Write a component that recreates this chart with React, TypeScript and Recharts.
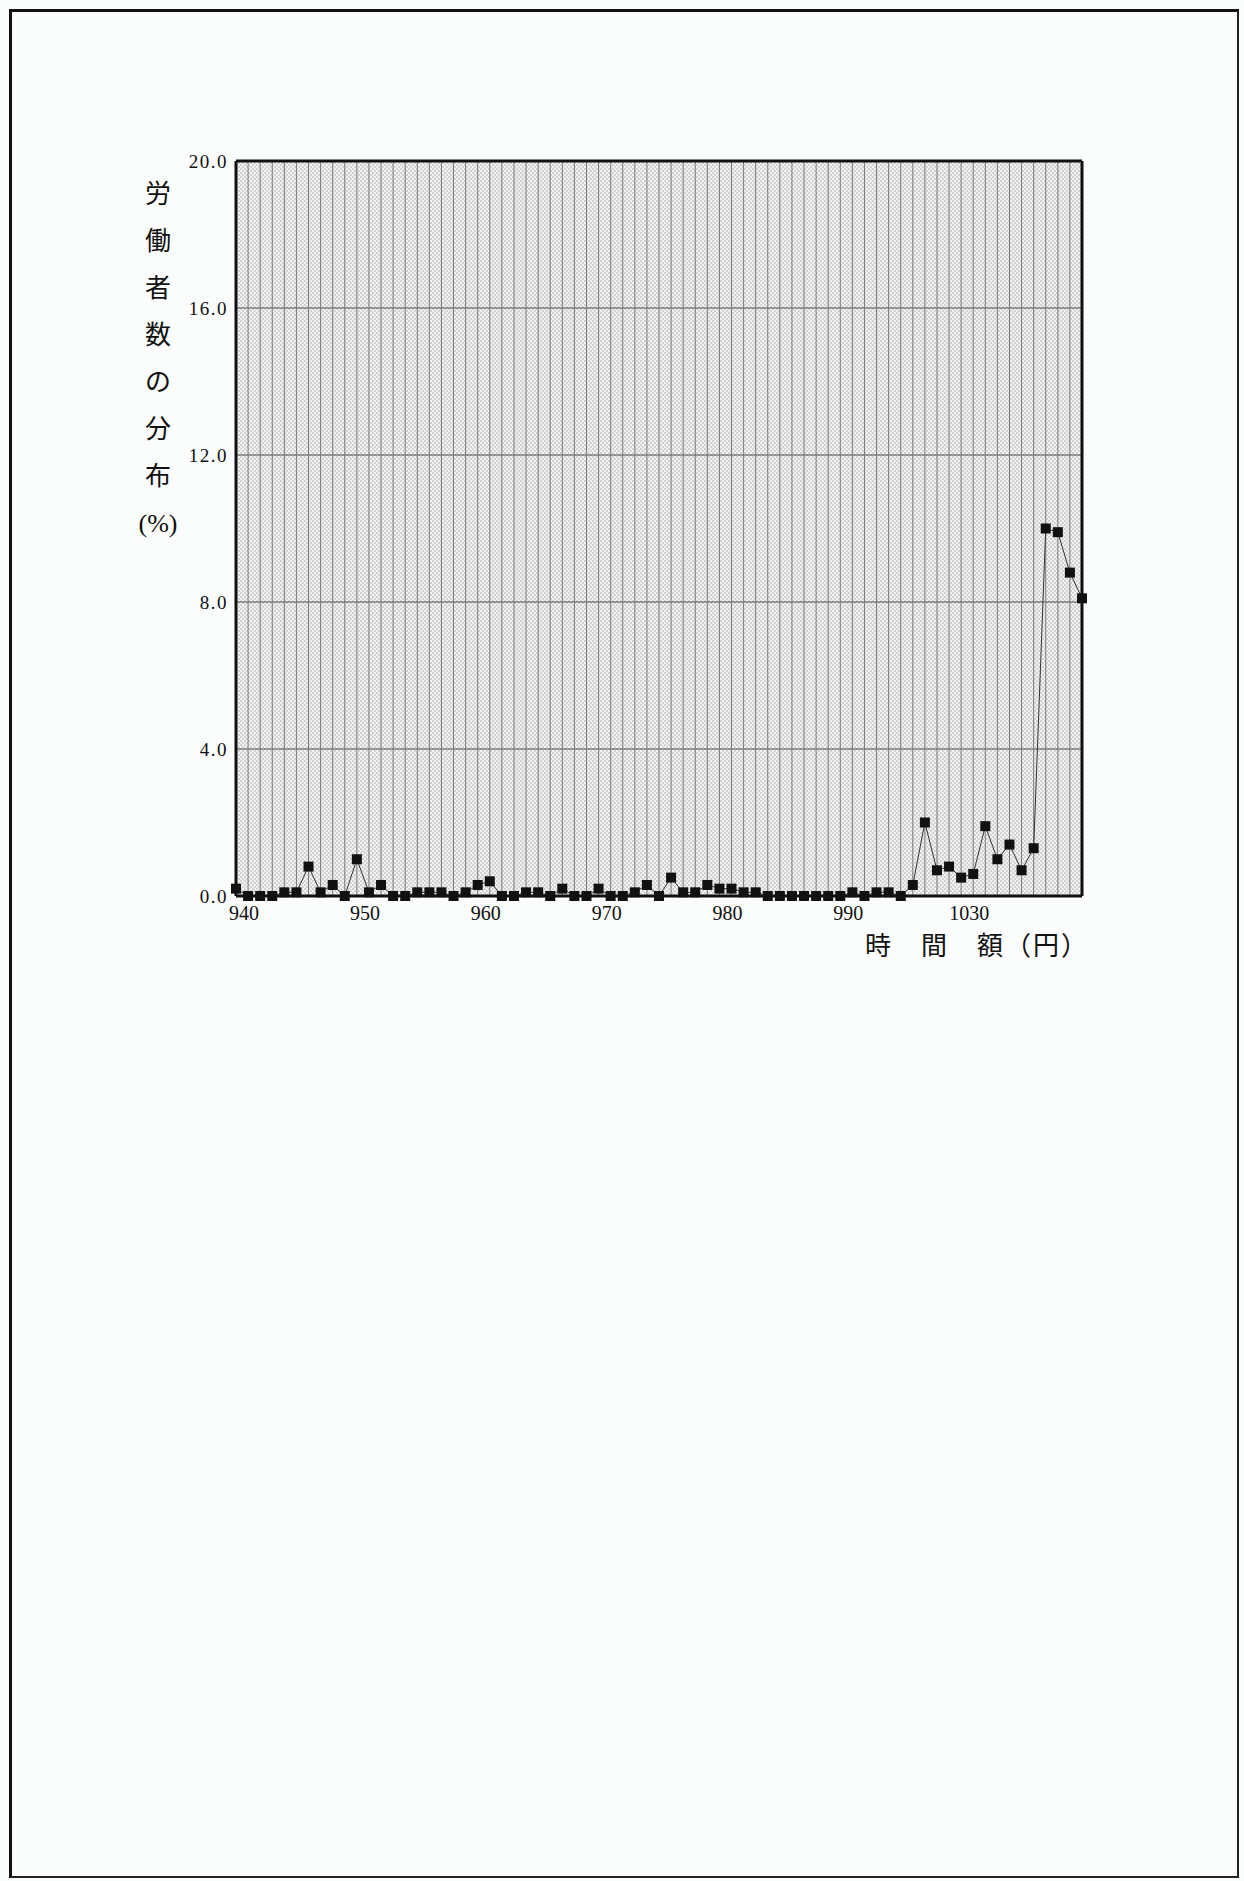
import React from "react";
import {
  LineChart,
  Line,
  XAxis,
  YAxis,
  CartesianGrid,
  ReferenceLine,
} from "recharts";

// ---- data ----
// position of each wage class along the axis (0 = first class shown)
const categories: number[] = [
  0, 1, 2, 3, 4, 5, 6, 7, 8, 9,
  10, 11, 12, 13, 14, 15, 16, 17, 18, 19,
  20, 21, 22, 23, 24, 25, 26, 27, 28, 29,
  30, 31, 32, 33, 34, 35, 36, 37, 38, 39,
  40, 41, 42, 43, 44, 45, 46, 47, 48, 49,
  50, 51, 52, 53, 54, 55, 56, 57, 58, 59,
  60, 61, 62, 63, 64, 65, 66, 67, 68, 69,
  70,
];

// 労働者数の分布 (%)
const shares: number[] = [
  0.2, 0, 0, 0, 0.1, 0.1, 0.8, 0.1, 0.3, 0,
  1.0, 0.1, 0.3, 0, 0, 0.1, 0.1, 0.1, 0, 0.1,
  0.3, 0.4, 0, 0, 0.1, 0.1, 0, 0.2, 0, 0,
  0.2, 0, 0, 0.1, 0.3, 0, 0.5, 0.1, 0.1, 0.3,
  0.2, 0.2, 0.1, 0.1, 0, 0, 0, 0, 0, 0,
  0, 0.1, 0, 0.1, 0.1, 0, 0.3, 2.0, 0.7, 0.8,
  0.5, 0.6, 1.9, 1.0, 1.4, 0.7, 1.3, 10.0, 9.9, 8.8,
  8.1,
];

const xTickPositions: number[] = [1, 11, 21, 31, 41, 51, 61];
const xTickLabels: string[] = ["940", "950", "960", "970", "980", "990", "1030"];
const yTicks: number[] = [0, 4, 8, 12, 16, 20];

const yTitleLines: string[] = ["労", "働", "者", "数", "の", "分", "布", "(%)"];
const xTitle = "時　間　額（円）";

const data = categories.map((c, i) => ({ idx: c, share: shares[i] }));

const SERIF = "'Liberation Serif', 'DejaVu Serif', 'Noto Sans CJK JP', serif";

const SquareDot = (props: any) => {
  const { cx, cy, index } = props;
  if (cx == null || cy == null) return <g key={`d${index}`} />;
  return (
    <rect
      key={`d${index}`}
      x={cx - 5}
      y={cy - 5}
      width={10}
      height={10}
      fill="#111"
    />
  );
};

export default function App() {
  const tickLabelFor = (v: number) => {
    const k = xTickPositions.indexOf(v);
    return k >= 0 ? xTickLabels[k] : "";
  };

  return (
    <div
      style={{
        position: "absolute",
        left: 0,
        top: 0,
        width: 1244,
        height: 1881,
        background: "#fbfcfc",
        overflow: "hidden",
      }}
    >
      <svg width={0} height={0} style={{ position: "absolute" }}>
        <defs>
          <pattern id="tone" width={4} height={4} patternUnits="userSpaceOnUse">
            <rect x={0} y={0} width={4} height={4} fill="#f1f1f1" />
            <circle cx={1} cy={1} r={0.75} fill="#a6a6a6" />
            <circle cx={3} cy={3} r={0.75} fill="#a6a6a6" />
          </pattern>
        </defs>
      </svg>

      {/* page frame */}
      <div
        style={{
          position: "absolute",
          left: 9,
          top: 9,
          width: 1230,
          height: 1869,
          boxSizing: "border-box",
          borderLeft: "3px solid #111",
          borderTop: "3px solid #111",
          borderRight: "2px solid #222",
          borderBottom: "2px solid #222",
        }}
      />

      <div style={{ position: "absolute", left: 0, top: 0 }}>
        <LineChart
          width={1244}
          height={1000}
          data={data}
          margin={{ top: 161, right: 162, bottom: 74, left: 176 }}
        >
          <CartesianGrid
            vertical={false}
            stroke="#4a4a4a"
            strokeWidth={1}
            fill="url(#tone)"
            fillOpacity={1}
          />
          {categories.slice(1, categories.length - 1).map((c) => (
            <ReferenceLine
              key={`v${c}`}
              x={c}
              stroke="#7a7a7a"
              strokeWidth={1}
            />
          ))}
          <ReferenceLine y={20} stroke="#111" strokeWidth={3} />
          <ReferenceLine x={categories[categories.length - 1]} stroke="#111" strokeWidth={3} />
          <XAxis
            dataKey="idx"
            type="number"
            domain={[0, categories.length - 1]}
            ticks={xTickPositions}
            interval={0}
            tickFormatter={tickLabelFor}
            tickLine={false}
            tickSize={5}
            tickMargin={5}
            height={30}
            axisLine={{ stroke: "#111", strokeWidth: 3 }}
            tick={{ fontSize: 20, fill: "#111", fontFamily: SERIF, dx: -4 }}
          />
          <YAxis
            type="number"
            domain={[0, 20]}
            ticks={yTicks}
            interval={0}
            tickFormatter={(v: number) => v.toFixed(1)}
            tickLine={false}
            tickSize={4}
            tickMargin={4}
            width={60}
            axisLine={{ stroke: "#111", strokeWidth: 3 }}
            tick={{ fontSize: 19, fill: "#111", fontFamily: SERIF, letterSpacing: 1.5 }}
          />
          <Line
            dataKey="share"
            type="linear"
            stroke="#333"
            strokeWidth={1}
            dot={SquareDot}
            activeDot={false}
            isAnimationActive={false}
          />
        </LineChart>
      </div>

      {/* y-axis title, stacked vertically */}
      <div
        style={{
          position: "absolute",
          left: 133,
          top: 171,
          width: 50,
          textAlign: "center",
          fontSize: 26,
          lineHeight: "47px",
          fontFamily: SERIF,
          color: "#111",
        }}
      >
        {yTitleLines.map((t) => (
          <div key={t}>{t}</div>
        ))}
      </div>

      {/* x-axis title */}
      <div
        style={{
          position: "absolute",
          left: 865,
          top: 931,
          fontSize: 26,
          lineHeight: "32px",
          letterSpacing: 2,
          fontFamily: SERIF,
          color: "#111",
          whiteSpace: "nowrap",
        }}
      >
        {xTitle}
      </div>
    </div>
  );
}
